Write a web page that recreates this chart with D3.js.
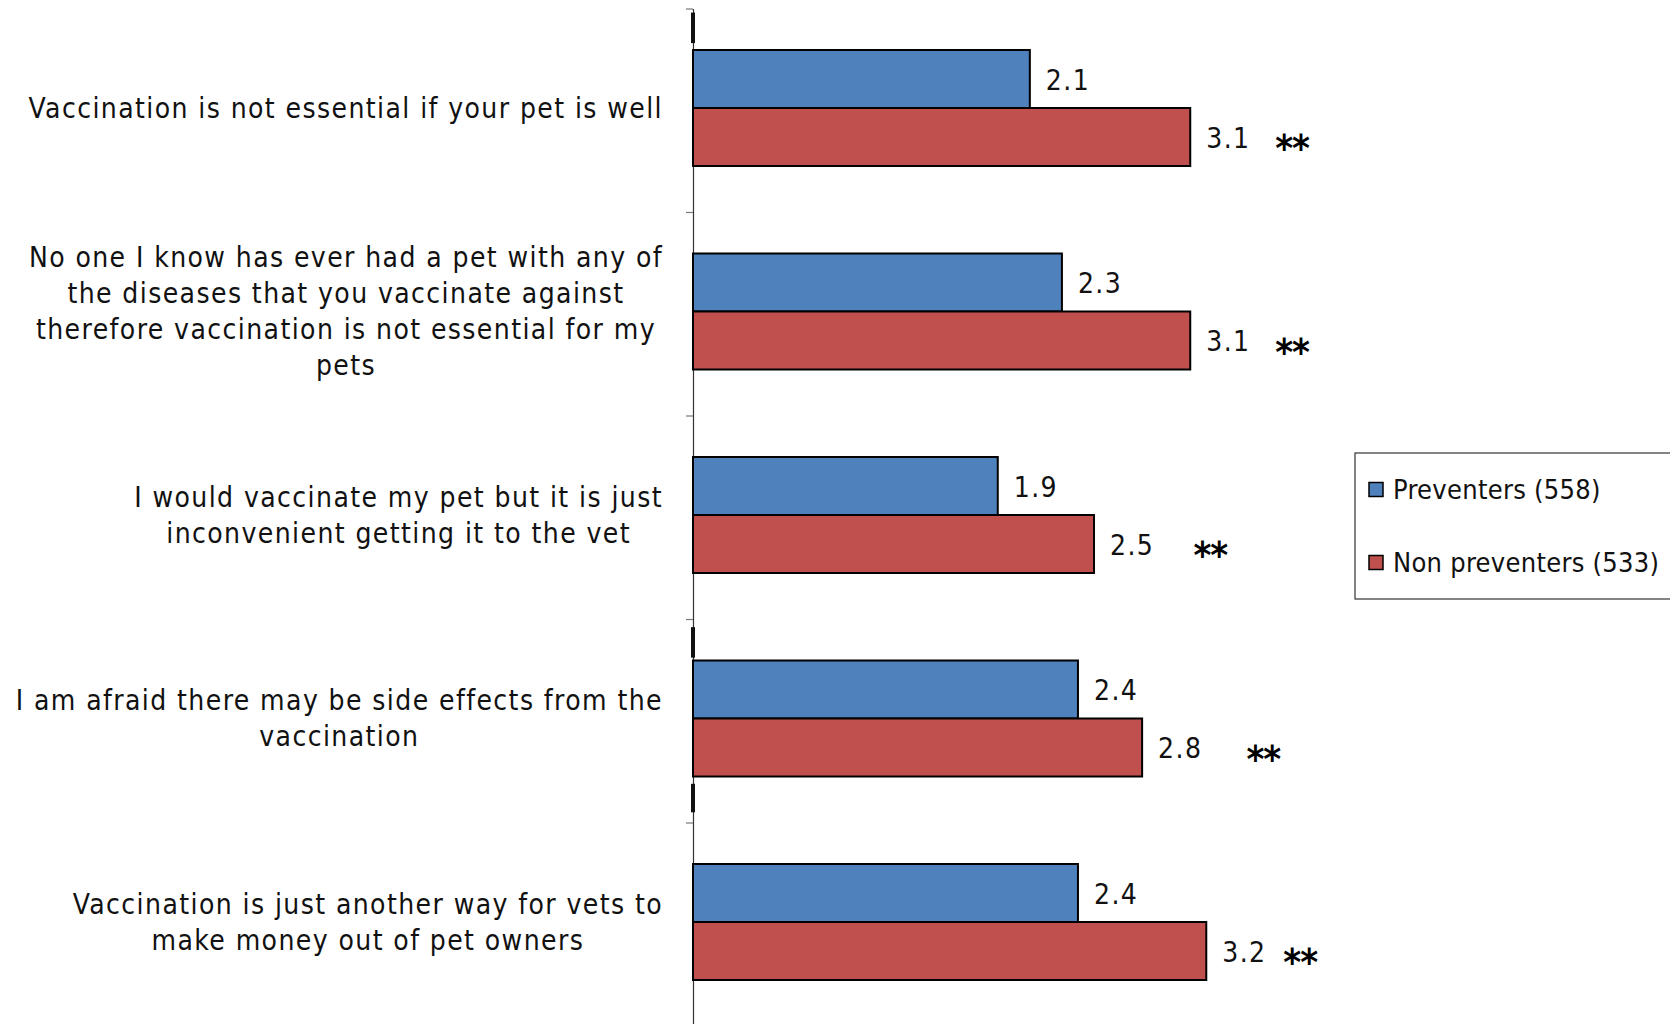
<!DOCTYPE html>
<html>
<head>
<meta charset="utf-8">
<script src="https://cdn.jsdelivr.net/npm/d3@7"></script>
<style>
  html, body { margin: 0; padding: 0; background: #fff; }
  svg { display: block; }
  .txt { font-family: "DejaVu Sans Condensed", "Liberation Sans Narrow", "DejaVu Sans", sans-serif; font-stretch: condensed; fill: #111; }
</style>
</head>
<body>
<svg id="chart" width="1670" height="1024"></svg>
<script>
// ---- data ----
const categories = [
  ["Vaccination is not essential if your pet is well"],
  ["No one I know has ever had a pet with any of", "the diseases that you vaccinate against", "therefore vaccination is not essential for my", "pets"],
  ["I would vaccinate my pet but it is just", "inconvenient getting it to the vet"],
  ["I am afraid there may be side effects from the", "vaccination"],
  ["Vaccination is just another way for vets to", "make money out of pet owners"]
];
const seriesNames = ["Preventers (558)", "Non preventers (533)"];
const preventers = [2.1, 2.3, 1.9, 2.4, 2.4];
const nonPreventers = [3.1, 3.1, 2.5, 2.8, 3.2];
const significance = ["**", "**", "**", "**", "**"];
const starAt = [3.63, 3.63, 3.12, 3.45, 3.68];   // value-axis anchor of the ** marks
const axisMarks = [[0.02, 0.17], [3.04, 3.19], [3.81, 3.95]]; // thick marks on the axis (band units)
const colors = ["#4F81BD", "#C0504D"];

// ---- layout ----
const svg = d3.select("#chart");
const x = d3.scaleLinear().domain([0, 5]).range([693, 693 + 5 * 160.4]);
const yb = d3.scaleLinear().domain([0, categories.length]).range([8.5, 8.5 + categories.length * 203.5]);
const y0 = d3.scaleBand().domain(d3.range(categories.length)).range(yb.range()).padding(0);
const y1 = d3.scaleBand().domain(seriesNames).range([41.5, 157.5]).padding(0);
const FS = 28;

function fitSpacing(str, fs, target) {
  const p = svg.append("text").attr("class", "txt").style("font-size", fs + "px").text(str);
  const w = p.node().getComputedTextLength();
  p.remove();
  return (target - w) / (str.length - 1);
}
const LS = fitSpacing(categories[0][0], FS, 633);
const LFS = 27;
const LLS = fitSpacing(seriesNames[1], LFS, 266);

// axis
const axis = d3.axisLeft(yb).tickValues(d3.range(categories.length)).tickSize(7).tickSizeOuter(0).tickFormat("");
const gAxis = svg.append("g").attr("transform", "translate(" + x(0) + ",0)").call(axis);
gAxis.select(".domain").attr("stroke", "#333").attr("stroke-width", 1.2);
gAxis.selectAll(".tick line").attr("stroke", "#777").attr("stroke-width", 1.2);

// bars
const rows = categories.map((c, i) => ({ i, vals: [preventers[i], nonPreventers[i]] }));
const gRow = svg.selectAll("g.row").data(rows).join("g").attr("class", "row")
  .attr("transform", d => "translate(0," + y0(d.i) + ")");
gRow.selectAll("rect").data(d => d.vals.map((v, k) => ({ v, k }))).join("rect")
  .attr("x", x(0))
  .attr("y", d => y1(seriesNames[d.k]))
  .attr("width", d => x(d.v) - x(0))
  .attr("height", y1.bandwidth())
  .attr("fill", d => colors[d.k])
  .attr("stroke", "#000").attr("stroke-width", 2);

// value labels
gRow.selectAll("text.val").data(d => d.vals.map((v, k) => ({ v, k }))).join("text")
  .attr("class", "txt val")
  .attr("x", d => x(d.v) + 16)
  .attr("y", d => y1(seriesNames[d.k]) + y1.bandwidth() / 2 + 1)
  .attr("dominant-baseline", "central")
  .style("font-size", FS + "px").style("letter-spacing", LS + "px")
  .text(d => d3.format(".1f")(d.v));

// significance stars
gRow.append("text")
  .attr("class", "txt")
  .attr("x", d => x(starAt[d.i]))
  .attr("y", d => y1(seriesNames[1]) + y1.bandwidth() / 2 + 24)
  .style("font-size", "38px").style("font-weight", "bold").style("fill", "#000")
  .style("letter-spacing", "-1px")
  .text(d => significance[d.i]);

// thick axis marks
svg.selectAll("line.mark").data(axisMarks).join("line")
  .attr("x1", x(0)).attr("x2", x(0))
  .attr("y1", d => yb(d[0])).attr("y2", d => yb(d[1]))
  .attr("stroke", "#111").attr("stroke-width", 4);

// category labels
const rightEdge = 663, lineH = 36;
categories.forEach((lines, i) => {
  const g = svg.append("g");
  const tmp = lines.map(l => g.append("text").attr("class", "txt").style("font-size", FS + "px")
    .style("letter-spacing", LS + "px").text(l));
  const wmax = d3.max(tmp, t => t.node().getComputedTextLength());
  const cx = rightEdge - wmax / 2;
  const cy = y0(i) + 41.5 + 58;
  tmp.forEach((t, j) => t.attr("x", cx).attr("text-anchor", "middle")
    .attr("y", cy + (j - (lines.length - 1) / 2) * lineH).attr("dominant-baseline", "central"));
});

// legend
const leg = svg.append("g").attr("transform", "translate(1355,453)");
leg.append("rect").attr("x", 0).attr("y", 0).attr("width", 400).attr("height", 146)
  .attr("fill", "#fff").attr("stroke", "#333").attr("stroke-width", 1.2);
seriesNames.forEach((s, k) => {
  const cy = 36.5 + k * 73;
  leg.append("rect").attr("x", 14).attr("y", cy - 7).attr("width", 14).attr("height", 14)
    .attr("fill", colors[k]).attr("stroke", "#000").attr("stroke-width", 1.5);
  leg.append("text").attr("class", "txt").attr("x", 38).attr("y", cy)
    .attr("dominant-baseline", "central")
    .style("font-size", LFS + "px").style("letter-spacing", LLS + "px").text(s);
});
</script>
</body>
</html>
